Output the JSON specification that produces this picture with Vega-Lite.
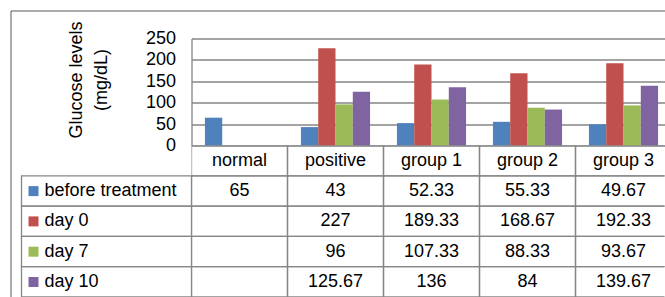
{
  "$schema": "https://vega.github.io/schema/vega-lite/v6.json",
  "autosize": {"type": "pad"},
  "padding": {"left": 10.5, "top": 4.5, "right": 0, "bottom": 0},
  "background": "white",
  "config": {
    "view": {"stroke": null},
    "font": "Liberation Sans",
    "text": {"font": "Liberation Sans"},
    "axis": {"labelFont": "Liberation Sans", "titleFont": "Liberation Sans"},
    "legend": {"labelFont": "Liberation Sans"}
  },
  "datasets": {
    "vals": [
      {"group": "normal", "series": "before treatment", "value": 65},
      {"group": "normal", "series": "day 0", "value": null},
      {"group": "normal", "series": "day 7", "value": null},
      {"group": "normal", "series": "day 10", "value": null},
      {"group": "positive", "series": "before treatment", "value": 43},
      {"group": "positive", "series": "day 0", "value": 227},
      {"group": "positive", "series": "day 7", "value": 96},
      {"group": "positive", "series": "day 10", "value": 125.67},
      {"group": "group 1", "series": "before treatment", "value": 52.33},
      {"group": "group 1", "series": "day 0", "value": 189.33},
      {"group": "group 1", "series": "day 7", "value": 107.33},
      {"group": "group 1", "series": "day 10", "value": 136},
      {"group": "group 2", "series": "before treatment", "value": 55.33},
      {"group": "group 2", "series": "day 0", "value": 168.67},
      {"group": "group 2", "series": "day 7", "value": 88.33},
      {"group": "group 2", "series": "day 10", "value": 84},
      {"group": "group 3", "series": "before treatment", "value": 49.67},
      {"group": "group 3", "series": "day 0", "value": 192.33},
      {"group": "group 3", "series": "day 7", "value": 93.67},
      {"group": "group 3", "series": "day 10", "value": 139.67}
    ],
    "groups": [
      {"group": "normal"}, {"group": "positive"}, {"group": "group 1"}, {"group": "group 2"}, {"group": "group 3"}
    ]
  },
  "columns": 2,
  "spacing": 0,
  "bounds": "flush",
  "concat": [
    {
      "width": 181, "height": 28,
      "data": {"values": [{"a": 1}]},
      "mark": {"type": "text", "text": ""},
      "encoding": {
        "x": {"datum": 0, "type": "quantitative", "axis": {"orient": "top", "labels": false, "ticks": false, "grid": false, "title": null, "domainColor": "#595959", "domainWidth": 1}},
        "y": {"datum": 0, "type": "quantitative", "axis": {"orient": "left", "labels": false, "ticks": false, "grid": false, "title": null, "domainColor": "#595959", "domainWidth": 1}}
      }
    },
    {
      "width": 473, "height": 28,
      "data": {"values": [{"a": 1}]},
      "mark": {"type": "text", "text": ""},
      "encoding": {
        "x": {"datum": 0, "type": "quantitative", "axis": {"orient": "top", "labels": false, "ticks": false, "grid": false, "title": null, "domainColor": "#595959", "domainWidth": 1}}
      }
    },
    {
      "width": 181, "height": 107,
      "data": {"values": [{"a": 1}]},
      "mark": {"type": "text", "text": ""},
      "encoding": {
        "y": {"datum": 0, "type": "quantitative", "axis": {"orient": "left", "labels": false, "ticks": false, "grid": false, "title": null, "domainColor": "#595959", "domainWidth": 1}}
      }
    },
    {
      "width": 473, "height": 107,
      "data": {"name": "vals"},
      "mark": {"type": "bar"},
      "encoding": {
        "x": {"field": "group", "type": "nominal", "scale": {"domain": ["normal", "positive", "group 1", "group 2", "group 3"], "paddingInner": 0.28, "paddingOuter": 0.10354, "align": 0.676}, "axis": null},
        "xOffset": {"field": "series", "type": "nominal", "scale": {"domain": ["before treatment", "day 0", "day 7", "day 10"]}},
        "y": {"field": "value", "type": "quantitative", "scale": {"domain": [0, 250], "nice": false},
          "axis": {"values": [0, 50, 100, 150, 200, 250], "grid": true, "gridColor": "#868686", "gridWidth": 1.3, "domainColor": "#868686", "domainWidth": 1.3, "ticks": false, "labelPadding": 16, "labelFontSize": 18, "labelColor": "#000", "title": ["Glucose levels", "(mg/dL)"], "titleFontSize": 18, "titleFontWeight": "normal", "titleColor": "#000", "titlePadding": 35, "titleY": 41, "titleLineHeight": 25}},
        "color": {"field": "series", "type": "nominal",
          "scale": {"domain": ["before treatment", "day 0", "day 7", "day 10"], "range": ["#4f81bd", "#c0504d", "#9bbb59", "#8064a2"]},
          "legend": {"orient": "none", "legendX": 14, "legendY": 171.6, "title": null, "symbolType": "square", "symbolSize": 100, "symbolStrokeWidth": 0, "labelFontSize": 18, "labelColor": "#000", "labelOffset": 2, "rowPadding": 12.3, "padding": 0, "labelLimit": 300}}
      }
    },
    {
      "width": 181, "height": 151.5,
      "data": {"name": "vals"},
      "transform": [{"filter": "datum.group == 'normal'"}],
      "mark": {"type": "rect", "filled": false, "stroke": "#868686", "strokeWidth": 1.3},
      "encoding": {
        "x": {"datum": "label", "type": "nominal", "scale": {"domain": ["label"], "paddingInner": 0, "paddingOuter": 0.03235, "align": 1}, "axis": null},
        "y": {"field": "series", "type": "nominal", "scale": {"domain": ["header", "before treatment", "day 0", "day 7", "day 10"], "paddingInner": 0, "paddingOuter": 0},
          "axis": {"orient": "left", "labels": false, "ticks": false, "grid": false, "title": null, "domainColor": "#595959", "domainWidth": 1}}
      }
    },
    {
      "width": 473, "height": 151.5,
      "layer": [
        {
          "data": {"name": "vals"},
          "mark": {"type": "rect", "filled": false, "stroke": "#868686", "strokeWidth": 1.3, "clip": true, "width": {"band": 1.3889}},
          "encoding": {
            "x": {"field": "group", "type": "nominal", "scale": {"domain": ["normal", "positive", "group 1", "group 2", "group 3"], "paddingInner": 0.28, "paddingOuter": 0.10354, "align": 0.676}, "axis": null},
            "y": {"field": "series", "type": "nominal", "scale": {"domain": ["header", "before treatment", "day 0", "day 7", "day 10"], "paddingInner": 0, "paddingOuter": 0}, "axis": null}
          }
        },
        {
          "data": {"name": "groups"},
          "mark": {"type": "rect", "filled": false, "stroke": "#868686", "strokeWidth": 1.3, "clip": true, "width": {"band": 1.3889}},
          "encoding": {
            "x": {"field": "group", "type": "nominal", "axis": null},
            "y": {"datum": "header", "type": "nominal", "axis": null}
          }
        },
        {
          "data": {"name": "vals"},
          "transform": [{"filter": "isValid(datum.value)"}],
          "mark": {"type": "text", "fontSize": 18, "color": "#000"},
          "encoding": {
            "x": {"field": "group", "type": "nominal", "axis": null},
            "y": {"field": "series", "type": "nominal", "axis": null},
            "text": {"field": "value", "type": "nominal"}
          }
        },
        {
          "data": {"name": "groups"},
          "mark": {"type": "text", "fontSize": 18, "color": "#000"},
          "encoding": {
            "x": {"field": "group", "type": "nominal", "axis": null},
            "y": {"datum": "header", "type": "nominal", "axis": null},
            "text": {"field": "group", "type": "nominal"}
          }
        }
      ]
    }
  ]
}
